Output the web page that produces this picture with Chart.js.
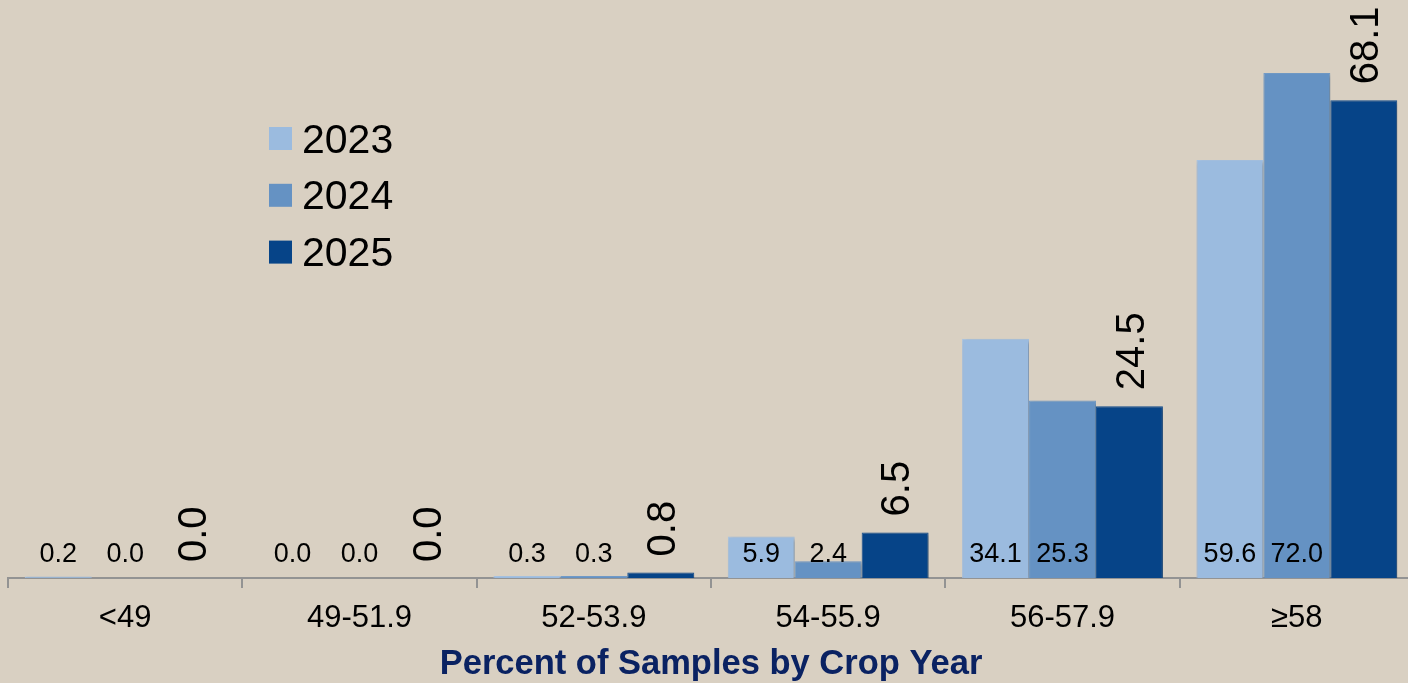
<!DOCTYPE html>
<html><head><meta charset="utf-8">
<script src="https://cdn.jsdelivr.net/npm/chart.js@4.4.1/dist/chart.umd.min.js"></script>
<style>
html,body{margin:0;padding:0;background:#D9D0C2;overflow:hidden;width:1408px;height:683px}
#wrap{position:absolute;left:0;top:0;width:1414px;height:683px}
</style></head>
<body><div id="wrap"><canvas id="c" width="1414" height="683"></canvas></div>
<script>
const categories = ['<49', '49-51.9', '52-53.9', '54-55.9', '56-57.9', '≥58'];
const seriesNames = ['2023', '2024', '2025'];
const values2023 = [0.2, 0.0, 0.3, 5.9, 34.1, 59.6];
const values2024 = [0.0, 0.0, 0.3, 2.4, 25.3, 72.0];
const values2025 = [0.0, 0.0, 0.8, 6.5, 24.5, 68.1];
const seriesColors = ['#9BBBDF', '#6592C3', '#064488'];
const seriesEdges = ['#A8C4E4', '#739DCA', '#1A5393'];
const axisTitle = 'Percent of Samples by Crop Year';

const FONT = '"Liberation Sans", Arial, Helvetica, sans-serif';
const allValues = [values2023, values2024, values2025];

const shadowPlugin = {
  id: 'barShadow',
  beforeDatasetsDraw(chart) {
    const ctx = chart.ctx;
    ctx.save();
    ctx.shadowColor = 'rgba(0,0,0,0.28)';
    ctx.shadowBlur = 4;
    ctx.shadowOffsetX = 2;
    ctx.shadowOffsetY = 2;
  },
  afterDatasetsDraw(chart) {
    chart.ctx.restore();
  }
};

const labelPlugin = {
  id: 'valueLabels',
  afterDraw(chart) {
    const ctx = chart.ctx;
    const base = chart.scales.y.getPixelForValue(0);
    chart.data.datasets.forEach((ds, di) => {
      const meta = chart.getDatasetMeta(di);
      meta.data.forEach((bar, i) => {
        const txt = Number(ds.data[i]).toFixed(1);
        ctx.save();
        ctx.fillStyle = '#000';
        if (di < 2) {
          ctx.font = '27px ' + FONT;
          ctx.textAlign = 'center';
          ctx.textBaseline = 'alphabetic';
          ctx.fillText(txt, bar.x, base - 16);
        } else {
          const size = 40;
          ctx.font = size + 'px ' + FONT;
          ctx.textAlign = 'left';
          ctx.textBaseline = 'alphabetic';
          ctx.translate(bar.x, Math.min(bar.y, base) - 16);
          ctx.rotate(-Math.PI / 2);
          ctx.fillText(txt, 0, size * 0.716 / 2);
        }
        ctx.restore();
      });
    });
  }
};

const legendPlugin = {
  id: 'sideLegend',
  afterDraw(chart) {
    const ctx = chart.ctx;
    const x0 = 269, box = 23, c0 = 138.5, step = 56.8;
    chart.data.datasets.forEach((ds, di) => {
      const cy = c0 + di * step;
      ctx.save();
      ctx.fillStyle = ds.backgroundColor;
      ctx.fillRect(x0, cy - box / 2, box, box);
      ctx.fillStyle = '#000';
      ctx.font = '41px ' + FONT;
      ctx.textAlign = 'left';
      ctx.textBaseline = 'alphabetic';
      ctx.fillText(ds.label, x0 + 33, cy + 14);
      ctx.restore();
    });
  }
};

new Chart(document.getElementById('c'), {
  type: 'bar',
  data: {
    labels: categories,
    datasets: seriesNames.map((n, k) => ({
      label: n,
      data: allValues[k],
      backgroundColor: seriesColors[k],
      borderColor: seriesEdges[k],
      borderWidth: { left: 1, right: 1, top: 1, bottom: 0 },
      barPercentage: 1,
      categoryPercentage: 0.857
    }))
  },
  options: {
    responsive: false,
    devicePixelRatio: 1,
    animation: false,
    layout: { padding: { left: 8, right: 0, top: 0, bottom: 0 } },
    plugins: { legend: { display: false }, tooltip: { enabled: false }, title: { display: false } },
    scales: {
      y: { display: false, min: 0, max: 82.4 },
      x: {
        offset: true,
        grid: { display: true, offset: true, drawOnChartArea: false, drawTicks: true, tickLength: 10, color: '#939393', lineWidth: 2 },
        border: { display: true, color: '#939393', width: 2 },
        ticks: { color: '#000', font: { family: FONT, size: 31 }, padding: 12, maxRotation: 0, autoSkip: false },
        title: { display: true, text: axisTitle, color: '#0A2262', font: { family: FONT, size: 34.5, weight: 'bold' }, padding: { top: 0, bottom: -2 } },
        afterFit(s) { s.height = 105; }
      }
    }
  },
  plugins: [shadowPlugin, labelPlugin, legendPlugin]
});
</script>
</body></html>
